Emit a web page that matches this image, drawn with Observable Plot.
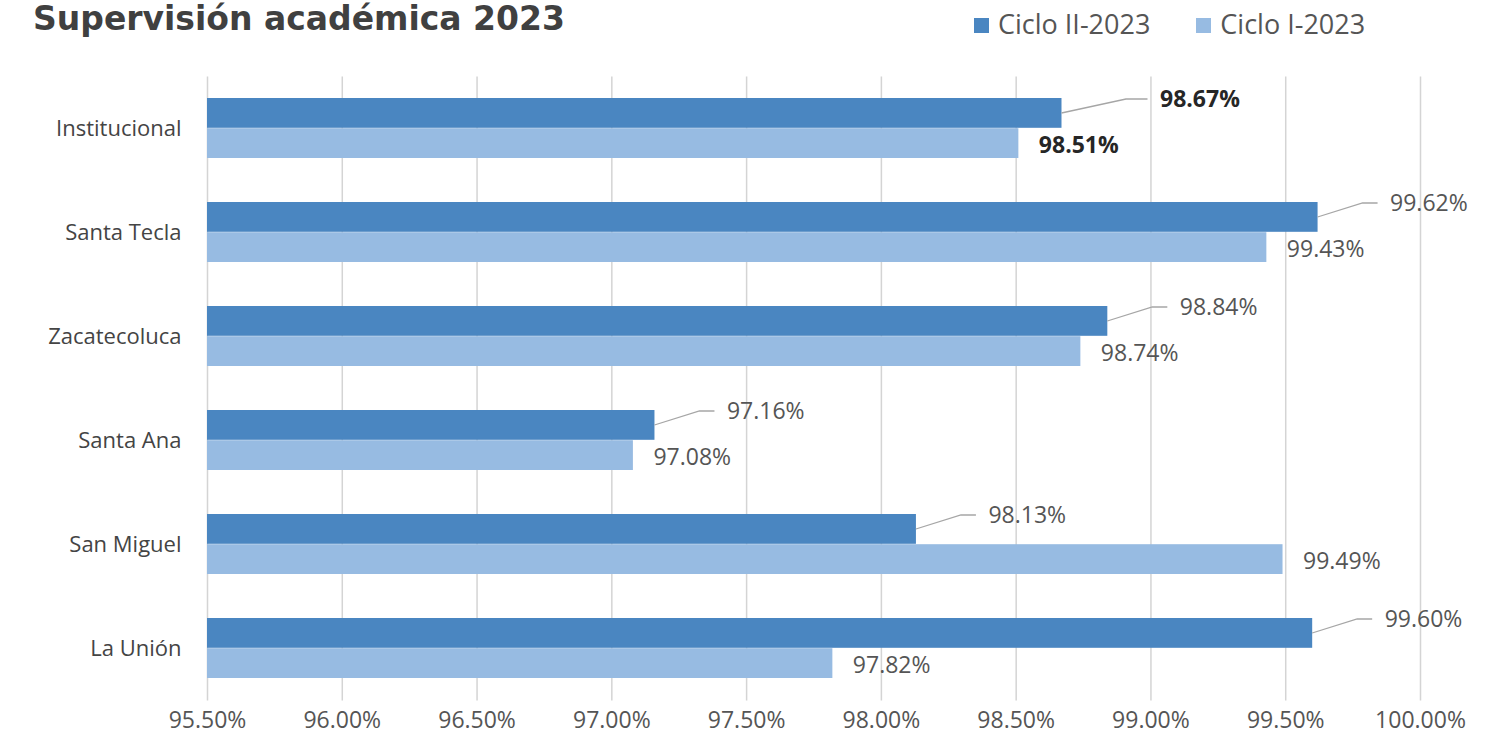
<!DOCTYPE html>
<html>
<head>
<meta charset="utf-8">
<script src="https://cdn.jsdelivr.net/npm/d3@7"></script>
<script src="https://cdn.jsdelivr.net/npm/@observablehq/plot@0.6"></script>
<style>
  html, body { margin: 0; padding: 0; background: #fff; }
  #wrap { position: relative; width: 1500px; height: 753px; overflow: hidden; font-family: "Open Sans", "Inter", sans-serif; }
  #title { position: absolute; left: 33px; top: 0px; line-height: 1.15; font-family: "DejaVu Sans", sans-serif; font-weight: bold; font-size: 33px; color: #404040; white-space: nowrap; }
  #legend { position: absolute; left: 974px; top: 5px; display: flex; gap: 46px; font-size: 27px; color: #555; }
  .item { display: flex; align-items: center; gap: 9px; }
  .sw { width: 15px; height: 15px; display: inline-block; margin-top: 4px; }
  #chart { position: absolute; left: 0; top: 0; }
</style>
</head>
<body>
<div id="wrap">
  <div id="chart"></div>
  <div id="title">Supervisión académica 2023</div>
  <div id="legend"></div>
</div>
<script>
// ---- data ----
const categories = ["Institucional", "Santa Tecla", "Zacatecoluca", "Santa Ana", "San Miguel", "La Unión"];
const cicloII = [98.67, 99.62, 98.84, 97.16, 98.13, 99.60];
const cicloI  = [98.51, 99.43, 98.74, 97.08, 99.49, 97.82];
const seriesNames = ["Ciclo II-2023", "Ciclo I-2023"];
const xTicks = [95.5, 96, 96.5, 97, 97.5, 98, 98.5, 99, 99.5, 100];

// ---- styles ----
const colII = "#4a86c1";
const colI = "#97bbe2";
const fmt = v => v.toFixed(2) + "%";
const font = "'Open Sans', Inter, sans-serif";

const rows = categories.map((c, i) => ({cat: c, ii: cicloII[i], i1: cicloI[i]}));
const isBold = d => d.cat === "Institucional";

// legend
const leg = document.getElementById("legend");
[[seriesNames[0], colII], [seriesNames[1], colI]].forEach(([n, c]) => {
  const it = document.createElement("div");
  it.className = "item";
  it.innerHTML = `<span class="sw" style="background:${c}"></span><span>${n}</span>`;
  leg.appendChild(it);
});

const W = 1500, H = 753;
const labelDx = 72;

const plot = Plot.plot({
  width: W,
  height: H,
  marginTop: 76.5,
  marginBottom: 52.5,
  marginLeft: 207,
  marginRight: 80,
  style: {fontFamily: font, background: "transparent"},
  x: {domain: [95.5, 100], ticks: xTicks, tickFormat: fmt, label: null},
  y: {domain: categories, padding: 0.42, paddingOuter: 0.21, label: null},
  marks: [
    Plot.gridX(xTicks, {stroke: "#d4d4d4", strokeOpacity: 1, strokeWidth: 1.5}),
    Plot.barX(rows, {x1: 95.5, x2: "ii", y: "cat", fill: colII, insetBottom: 30.2}),
    Plot.barX(rows, {x1: 95.5, x2: "i1", y: "cat", fill: colI, insetTop: 30.2}),
    Plot.axisX(xTicks, {tickSize: 0, tickPadding: 11, fontSize: 23, fill: "#555", tickFormat: fmt, label: null}),
    Plot.axisY({tickSize: 0, tickPadding: 26, fontSize: 22, fill: "#444", label: null}),
    // dark series labels
    Plot.text(rows.filter(d => !isBold(d)), {x: "ii", y: "cat", text: d => fmt(d.ii), dx: labelDx, dy: -29, textAnchor: "start", fontSize: 23, fill: "#555"}),
    Plot.text(rows.filter(isBold), {x: "ii", y: "cat", text: d => fmt(d.ii), dx: 98, dy: -29, textAnchor: "start", fontSize: 23, fontWeight: "bold", fill: "#262626"}),
    // light series labels
    Plot.text(rows.filter(d => !isBold(d)), {x: "i1", y: "cat", text: d => fmt(d.i1), dx: 20, dy: 17, textAnchor: "start", fontSize: 23, fill: "#555"}),
    Plot.text(rows.filter(isBold), {x: "i1", y: "cat", text: d => fmt(d.i1), dx: 20, dy: 17, textAnchor: "start", fontSize: 23, fontWeight: "bold", fill: "#262626"})
  ]
});

// leader lines drawn from the plot's own scales
const sx = plot.scale("x"), sy = plot.scale("y");
const bw = sy.bandwidth;
const svg = d3.select(plot.tagName === "svg" ? plot : plot.querySelector("svg"));
const g = svg.append("g").attr("fill", "none").attr("stroke", "#a6a6a6").attr("stroke-width", 1.3);
rows.forEach(d => {
  const x0 = sx.apply(d.ii);
  const top = sy.apply(d.cat);
  const dx = isBold(d) ? 98 : labelDx;
  const y0 = top + bw / 4;
  const x1 = x0 + dx - 12;
  const y1 = top + bw / 2 - 29;
  const mx = x0 + (x1 - x0) * 0.75;
  g.append("path").attr("d", `M${x0},${y0} L${mx},${y1} L${x1},${y1}`);
});

document.getElementById("chart").appendChild(plot);
</script>
</body>
</html>
